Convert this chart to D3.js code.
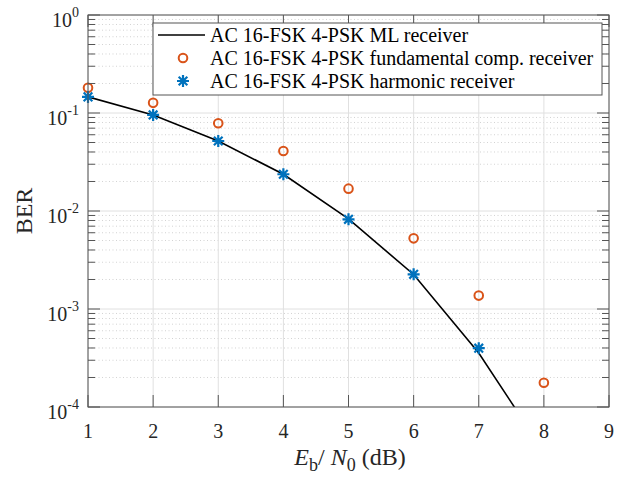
<!DOCTYPE html>
<html>
<head>
<meta charset="utf-8">
<script src="https://cdn.jsdelivr.net/npm/d3@7"></script>
<style>
  html, body { margin: 0; padding: 0; background: #fff; }
  svg { display: block; font-family: "Liberation Serif", "DejaVu Serif", serif; }
</style>
</head>
<body>
<div id="chart"></div>
<script>
// data
var snr = [1, 2, 3, 4, 5, 6, 7, 8];
var mlBer = [0.146, 0.0955, 0.0518, 0.0237, 0.0083, 0.00225, 0.000355, 0.000035];
var fundSnr = [1, 2, 3, 4, 5, 6, 7, 8];
var fundBer = [0.181, 0.127, 0.0785, 0.041, 0.0169, 0.00526, 0.00137, 0.000177];
var harmSnr = [1, 2, 3, 4, 5, 6, 7];
var harmBer = [0.146, 0.0955, 0.0518, 0.0237, 0.00823, 0.00226, 0.000398];
var xTicks = [1, 2, 3, 4, 5, 6, 7, 8, 9];
var yTicks = [0, -1, -2, -3, -4];
var legendNames = ["AC 16-FSK 4-PSK ML receiver", "AC 16-FSK 4-PSK fundamental comp. receiver", "AC 16-FSK 4-PSK harmonic receiver"];

var W = 628, H = 481;
var L = 88, R = 609, T = 15, B = 407;
var orange = "#D95319", blue = "#0072BD", axisCol = "#555";

var svg = d3.select("#chart").append("svg").attr("width", W).attr("height", H);

var x = d3.scaleLinear().domain([1, 9]).range([L, R]);
var y = d3.scaleLog().domain([1e-4, 1]).range([B, T]);

// minor values
var minors = [];
for (var e = -4; e < 0; e++) {
  for (var m = 2; m <= 9; m++) minors.push(m * Math.pow(10, e));
}

var grid = svg.append("g");
grid.selectAll(".mg").data(minors).enter().append("line")
  .attr("x1", L).attr("x2", R)
  .attr("y1", d => y(d)).attr("y2", d => y(d))
  .attr("stroke", "#c8c8c8").attr("stroke-width", 0.8).attr("stroke-dasharray", "1,2.5");
grid.selectAll(".Mg").data(yTicks).enter().append("line")
  .attr("x1", L).attr("x2", R)
  .attr("y1", d => y(Math.pow(10, d))).attr("y2", d => y(Math.pow(10, d)))
  .attr("stroke", "#e0e0e0").attr("stroke-width", 1);
grid.selectAll(".vg").data(xTicks).enter().append("line")
  .attr("x1", d => x(d)).attr("x2", d => x(d))
  .attr("y1", T).attr("y2", B)
  .attr("stroke", "#e0e0e0").attr("stroke-width", 1);

// clip for data
svg.append("clipPath").attr("id", "clip").append("rect")
  .attr("x", L).attr("y", T).attr("width", R - L).attr("height", B - T);

var line = d3.line().x(d => x(d[0])).y(d => y(d[1]));
svg.append("path")
  .datum(d3.zip(snr, mlBer))
  .attr("clip-path", "url(#clip)")
  .attr("d", line)
  .attr("fill", "none").attr("stroke", "#000").attr("stroke-width", 1.6);

svg.selectAll(".fund").data(d3.zip(fundSnr, fundBer)).enter().append("circle")
  .attr("cx", d => x(d[0])).attr("cy", d => y(d[1])).attr("r", 4.3)
  .attr("fill", "none").attr("stroke", orange).attr("stroke-width", 2);

function star(cx, cy, r) {
  var a = r * 0.72;
  return "M" + (cx - r) + "," + cy + "H" + (cx + r) +
    "M" + cx + "," + (cy - r) + "V" + (cy + r) +
    "M" + (cx - a) + "," + (cy - a) + "L" + (cx + a) + "," + (cy + a) +
    "M" + (cx - a) + "," + (cy + a) + "L" + (cx + a) + "," + (cy - a);
}
svg.selectAll(".harm").data(d3.zip(harmSnr, harmBer)).enter().append("path")
  .attr("d", d => star(x(d[0]), y(d[1]), 6))
  .attr("fill", "none").attr("stroke", blue).attr("stroke-width", 2.2);

// axes box and ticks (inward, all four sides)
var ax = svg.append("g").attr("stroke", axisCol).attr("stroke-width", 1);
ax.append("rect").attr("x", L).attr("y", T).attr("width", R - L).attr("height", B - T).attr("fill", "none");
xTicks.forEach(function (t) {
  ax.append("line").attr("x1", x(t)).attr("x2", x(t)).attr("y1", B).attr("y2", B - 12);
  ax.append("line").attr("x1", x(t)).attr("x2", x(t)).attr("y1", T).attr("y2", T + 12);
});
yTicks.forEach(function (t) {
  var yy = y(Math.pow(10, t));
  ax.append("line").attr("x1", L).attr("x2", L + 12).attr("y1", yy).attr("y2", yy);
  ax.append("line").attr("x1", R).attr("x2", R - 12).attr("y1", yy).attr("y2", yy);
});
minors.forEach(function (v) {
  var yy = y(v);
  ax.append("line").attr("x1", L).attr("x2", L + 7).attr("y1", yy).attr("y2", yy);
  ax.append("line").attr("x1", R).attr("x2", R - 7).attr("y1", yy).attr("y2", yy);
});

// tick labels
svg.selectAll(".xl").data(xTicks).enter().append("text")
  .attr("x", d => x(d)).attr("y", 438)
  .attr("text-anchor", "middle").attr("font-size", 20).attr("fill", "#262626")
  .text(d => d);

var yl = svg.selectAll(".yl").data(yTicks).enter().append("text")
  .attr("x", 79).attr("y", d => y(Math.pow(10, d)) + 12)
  .attr("text-anchor", "end").attr("font-size", 20).attr("fill", "#262626");
yl.append("tspan").text("10");
yl.append("tspan").attr("dy", -10).attr("font-size", 14).text(d => d);

// axis titles
svg.append("text")
  .attr("transform", "translate(32,211) rotate(-90)")
  .attr("text-anchor", "middle").attr("font-size", 24).attr("fill", "#262626")
  .text("BER");

var xt = svg.append("text")
  .attr("x", 350).attr("y", 465)
  .attr("text-anchor", "middle").attr("font-size", 24).attr("fill", "#262626");
xt.append("tspan").attr("font-style", "italic").text("E");
xt.append("tspan").attr("dy", 6).attr("font-size", 18).text("b");
xt.append("tspan").attr("dy", -6).text("/ ");
xt.append("tspan").attr("font-style", "italic").text("N");
xt.append("tspan").attr("dy", 6).attr("font-size", 18).text("0");
xt.append("tspan").attr("dy", -6).text(" (dB)");

// legend
var lg = svg.append("g");
lg.append("rect").attr("x", 153).attr("y", 23).attr("width", 449).attr("height", 72)
  .attr("fill", "#fff").attr("stroke", axisCol).attr("stroke-width", 1);
var rows = [35, 58, 81];
lg.append("line").attr("x1", 158).attr("x2", 205).attr("y1", rows[0]).attr("y2", rows[0])
  .attr("stroke", "#000").attr("stroke-width", 1.6);
lg.append("circle").attr("cx", 183).attr("cy", rows[1]).attr("r", 4.3)
  .attr("fill", "none").attr("stroke", orange).attr("stroke-width", 2);
lg.append("path").attr("d", star(183, rows[2], 6))
  .attr("fill", "none").attr("stroke", blue).attr("stroke-width", 2.2);
lg.selectAll(".lt").data(legendNames).enter().append("text")
  .attr("x", 210).attr("y", (d, i) => rows[i] + 7)
  .attr("font-size", 20).attr("fill", "#000")
  .text(d => d);
</script>
</body>
</html>
